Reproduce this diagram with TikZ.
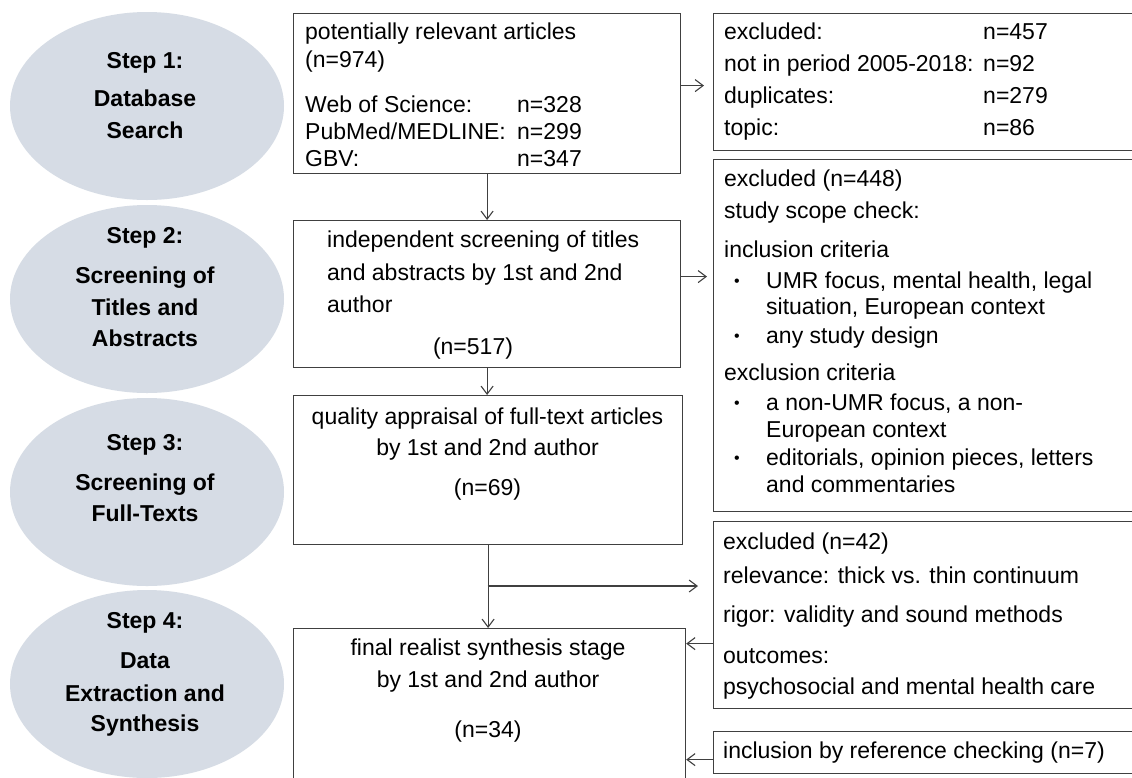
\documentclass[tikz,border=0pt]{standalone}
\usepackage{fontspec}
\setmainfont{Liberation Sans}
\usetikzlibrary{shapes.geometric,arrows.meta}
\definecolor{ellfill}{HTML}{D6DCE5}
\definecolor{linec}{HTML}{404040}
\newcommand\dfs{\fontsize{23pt}{27pt}\selectfont}
\newcommand\bfs{\fontsize{16pt}{20pt}\selectfont}
\begin{document}
\begin{tikzpicture}[x=1pt,y=-1pt,
  stepell/.style={ellipse, fill=ellfill, draw=none, minimum width=274pt, minimum height=188pt, inner sep=0pt},
  boxn/.style={draw=linec, line width=1.2pt, rectangle, inner sep=0pt, anchor=north west},
  txt/.style={anchor=base west, inner sep=0pt, font=\dfs},
  ctxt/.style={anchor=base, inner sep=0pt, font=\dfs},
  bul/.style={anchor=base, inner sep=0pt, font=\bfs},
  btxt/.style={anchor=base, inner sep=0pt, font=\dfs\bfseries},
  arr/.style={draw=linec, line width=1.2pt, -{Straight Barb[length=8pt,width=12pt,line width=1.1pt]}}]
\clip (0,0) rectangle (1132,777);
\fill[white] (0,0) rectangle (1132,777);

% ellipses
\node[stepell] (e1) at (147,106) {};
\node[stepell] (e2) at (147,299) {};
\node[stepell] (e3) at (147,492) {};
\node[stepell] (e4) at (147,684) {};

\node[btxt] (e1a) at (145,68) {Step 1:};
\node[btxt] (e1b) at (145,106) {Database};
\node[btxt] (e1c) at (145,138) {Search};

\node[btxt] (e2a) at (145,243) {Step 2:};
\node[btxt] (e2b) at (145,283) {Screening of};
\node[btxt] (e2c) at (145,315) {Titles and};
\node[btxt] (e2d) at (145,346) {Abstracts};

\node[btxt] (e3a) at (145,450) {Step 3:};
\node[btxt] (e3b) at (145,490) {Screening of};
\node[btxt] (e3c) at (145,521) {Full-Texts};

\node[btxt] (e4a) at (145,628) {Step 4:};
\node[btxt] (e4b) at (145,668) {Data};
\node[btxt] (e4c) at (145,701) {Extraction and};
\node[btxt] (e4d) at (145,731) {Synthesis};

% middle boxes
\node[boxn, minimum width=387pt, minimum height=160pt] (b1) at (293,13) {};
\node[boxn, minimum width=387pt, minimum height=147pt] (b2) at (293,220) {};
\node[boxn, minimum width=389pt, minimum height=149pt] (b3) at (293,395) {};
\node[boxn, minimum width=392pt, minimum height=172pt] (b4) at (293,628) {};

% right boxes
\node[boxn, minimum width=432pt, minimum height=137pt] (r1) at (713,13) {};
\node[boxn, minimum width=432pt, minimum height=352pt] (r2) at (713,159) {};
\node[boxn, minimum width=432pt, minimum height=187pt] (r3) at (713,521) {};
\node[boxn, minimum width=432pt, minimum height=42pt] (r4) at (713,731) {};

% box 1 text
\node[txt] (b1a) at (305,39) {potentially relevant articles};
\node[txt] (b1b) at (305,67) {(n=974)};
\node[txt] (b1c) at (305,112) {Web of Science:};
\node[txt] (b1d) at (517,112) {n=328};
\node[txt] (b1e) at (305,139) {PubMed/MEDLINE:};
\node[txt] (b1f) at (517,139) {n=299};
\node[txt] (b1g) at (305,166) {GBV:};
\node[txt] (b1h) at (517,166) {n=347};

% box 2 text
\node[txt] (b2a) at (327,247) {independent screening of titles};
\node[txt] (b2b) at (327,280) {and abstracts by 1st and 2nd};
\node[txt] (b2c) at (327,312) {author};
\node[ctxt] (b2d) at (473,354) {(n=517)};

% box 3 text
\node[ctxt] (b3a) at (487.5,424) {quality appraisal of full-text articles};
\node[ctxt] (b3b) at (487.5,455) {by 1st and 2nd author};
\node[ctxt] (b3c) at (487.5,495) {(n=69)};

% box 4 text
\node[ctxt] (b4a) at (488,655) {final realist synthesis stage};
\node[ctxt] (b4b) at (488,687) {by 1st and 2nd author};
\node[ctxt] (b4c) at (488,737) {(n=34)};

% r1 text
\node[txt] (r1a) at (724,39) {excluded:};
\node[txt] (r1b) at (983,39) {n=457};
\node[txt] (r1c) at (724,71) {not in period 2005-2018:};
\node[txt] (r1d) at (983,71) {n=92};
\node[txt] (r1e) at (724,103) {duplicates:};
\node[txt] (r1f) at (983,103) {n=279};
\node[txt] (r1g) at (724,135) {topic:};
\node[txt] (r1h) at (983,135) {n=86};

% r2 text
\node[txt] (r2a) at (724,186) {excluded (n=448)};
\node[txt] (r2b) at (724,218) {study scope check:};
\node[txt] (r2c) at (724,257) {inclusion criteria};
\node[bul] (r2d) at (737,286) {\textbullet};
\node[txt] (r2e) at (766,288) {UMR focus, mental health, legal};
\node[txt] (r2f) at (766,314) {situation, European context};
\node[bul] (r2g) at (737,341) {\textbullet};
\node[txt] (r2h) at (766,343) {any study design};
\node[txt] (r2i) at (724,380) {exclusion criteria};
\node[bul] (r2j) at (737,408) {\textbullet};
\node[txt] (r2k) at (766,410) {a non-UMR focus, a non-};
\node[txt] (r2l) at (766,437) {European context};
\node[bul] (r2m) at (737,463) {\textbullet};
\node[txt] (r2n) at (766,465) {editorials, opinion pieces, letters};
\node[txt] (r2o) at (766,492) {and commentaries};

% r3 text
\node[txt] (r3a) at (723,549) {excluded (n=42)};
\node[txt] (r3b) at (723,583) {relevance: thick vs. thin continuum};
\node[txt] (r3c) at (723,622) {rigor: validity and sound methods};
\node[txt] (r3d) at (723,663) {outcomes:};
\node[txt] (r3e) at (723,694) {psychosocial and mental health care};

% r4 text
\node[txt] (r4a) at (723,758) {inclusion by reference checking (n=7)};

% connectors
\draw[arr] (b1.south) -- (b2.north);
\draw[arr] (b2.south) -- (b2.south |- b3.north);
\draw[arr] (b3.south) -- (b3.south |- b4.north);
\coordinate (br) at (487.5,586);
\draw[arr, shorten >=15pt] (br) -- (br -| r3.west);
\draw[arr, shorten >=9pt] ([yshift=8pt]b1.east) -- ([yshift=8pt]b1.east -| r1.west);
\draw[arr, shorten >=6pt] ([yshift=17.5pt]b2.east) -- ([yshift=17.5pt]b2.east -| r2.west);
\draw[arr] ([yshift=-28.5pt]r3.west) -- ([yshift=-28.5pt]r3.west -| b4.east);
\draw[arr] ([yshift=-7pt]r4.west) -- ([yshift=-7pt]r4.west -| b4.east);
\end{tikzpicture}
\end{document}
